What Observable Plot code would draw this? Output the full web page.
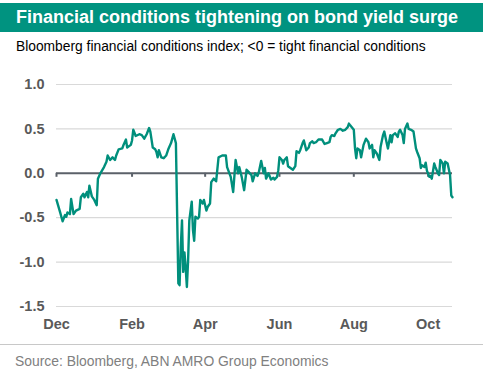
<!DOCTYPE html>
<html>
<head>
<meta charset="utf-8">
<script src="https://cdn.jsdelivr.net/npm/d3@7"></script>
<script src="https://cdn.jsdelivr.net/npm/@observablehq/plot@0.6"></script>
<style>
  html, body { margin: 0; padding: 0; background: #fff; }
  body { width: 490px; height: 377px; position: relative; overflow: hidden; font-family: "Liberation Sans", Arial, sans-serif; }
  #titlebar { position: absolute; left: 0; top: 3px; width: 483px; height: 29px; background: #009380; }
  #title { position: absolute; left: 16px; top: 5px; color: #fff; font-weight: bold; font-size: 18px; line-height: 18px; white-space: nowrap; }
  #subtitle { position: absolute; left: 16px; top: 39px; color: #000; font-size: 13.8px; line-height: 16px; white-space: nowrap; }
  #chart { position: absolute; left: 0; top: 58px; }
  #sep { position: absolute; left: 0; top: 344px; width: 483px; height: 1px; background: #c8c8c8; }
  #source { position: absolute; left: 15px; top: 353px; color: #808080; font-size: 13.9px; line-height: 16px; white-space: nowrap; }
</style>
</head>
<body>
<div id="titlebar"><div id="title">Financial conditions tightening on bond yield surge</div></div>
<div id="subtitle">Bloomberg financial conditions index; &lt;0 = tight financial conditions</div>
<div id="chart"></div>
<div id="sep"></div>
<div id="source">Source: Bloomberg, ABN AMRO Group Economics</div>
<script>
const dates = [
"2019-12-01","2019-12-04","2019-12-06","2019-12-08","2019-12-09","2019-12-10","2019-12-12","2019-12-13","2019-12-15","2019-12-17",
"2019-12-20","2019-12-21","2019-12-23","2019-12-24","2019-12-26","2019-12-27","2019-12-28","2019-12-30","2020-01-01","2020-01-03",
"2020-01-04","2020-01-06","2020-01-09","2020-01-11","2020-01-12","2020-01-14","2020-01-16","2020-01-18","2020-01-19","2020-01-21",
"2020-01-24","2020-01-25","2020-01-27","2020-01-28","2020-01-31","2020-02-01","2020-02-02","2020-02-04","2020-02-07","2020-02-09",
"2020-02-11","2020-02-13","2020-02-15","2020-02-16","2020-02-18","2020-02-20","2020-02-21","2020-02-22","2020-02-23","2020-02-25",
"2020-02-27","2020-02-29","2020-03-02","2020-03-04","2020-03-06","2020-03-08","2020-03-10","2020-03-11","2020-03-12","2020-03-13",
"2020-03-14","2020-03-15","2020-03-16","2020-03-17","2020-03-18","2020-03-19","2020-03-21","2020-03-22","2020-03-23","2020-03-24",
"2020-03-26","2020-03-27","2020-03-28","2020-03-30","2020-03-31","2020-04-02","2020-04-03","2020-04-05","2020-04-06","2020-04-08",
"2020-04-10","2020-04-12","2020-04-15","2020-04-18","2020-04-19","2020-04-22","2020-04-24","2020-04-26","2020-04-28","2020-04-29",
"2020-05-01","2020-05-03","2020-05-05","2020-05-07","2020-05-09","2020-05-10","2020-05-12","2020-05-14","2020-05-15","2020-05-17",
"2020-05-19","2020-05-20","2020-05-21","2020-05-23","2020-05-25","2020-05-27","2020-05-28","2020-05-30","2020-05-31","2020-06-01",
"2020-06-03","2020-06-04","2020-06-05","2020-06-07","2020-06-08","2020-06-10","2020-06-12","2020-06-14","2020-06-15","2020-06-17",
"2020-06-18","2020-06-20","2020-06-21","2020-06-23","2020-06-25","2020-06-26","2020-06-28","2020-06-29","2020-07-01","2020-07-03",
"2020-07-06","2020-07-08","2020-07-10","2020-07-12","2020-07-13","2020-07-14","2020-07-16","2020-07-17","2020-07-19","2020-07-21",
"2020-07-23","2020-07-25","2020-07-27","2020-07-28","2020-07-29","2020-08-01","2020-08-02","2020-08-03","2020-08-04","2020-08-06",
"2020-08-07","2020-08-09","2020-08-11","2020-08-13","2020-08-14","2020-08-16","2020-08-17","2020-08-18","2020-08-20","2020-08-22",
"2020-08-23","2020-08-25","2020-08-26","2020-08-28","2020-08-29","2020-08-31","2020-09-01","2020-09-02","2020-09-04","2020-09-06",
"2020-09-07","2020-09-08","2020-09-10","2020-09-11","2020-09-12","2020-09-14","2020-09-15","2020-09-17","2020-09-19","2020-09-21",
"2020-09-22","2020-09-24","2020-09-25","2020-09-26","2020-09-28","2020-09-29","2020-09-30","2020-10-02","2020-10-03","2020-10-04",
"2020-10-06","2020-10-07","2020-10-09","2020-10-10","2020-10-11","2020-10-13","2020-10-14","2020-10-15","2020-10-17","2020-10-19",
"2020-10-20","2020-10-21"
];
const values = [
-0.30,-0.44,-0.54,-0.47,-0.49,-0.44,-0.46,-0.29,-0.46,-0.42,
-0.40,-0.27,-0.23,-0.27,-0.21,-0.27,-0.14,-0.26,-0.30,-0.36,
-0.06,0.00,0.07,0.13,0.20,0.15,0.18,0.15,0.20,0.27,
0.28,0.32,0.38,0.29,0.32,0.37,0.49,0.42,0.44,0.43,
0.39,0.44,0.51,0.47,0.29,0.27,0.24,0.18,0.26,0.18,
0.17,0.20,0.28,0.34,0.44,0.34,-1.24,-1.26,-0.83,-0.53,
-1.11,-0.89,-1.06,-1.28,-0.98,-0.53,-0.32,-0.64,-0.76,-0.49,
-0.51,-0.49,-0.30,-0.34,-0.30,-0.42,-0.38,-0.34,-0.10,-0.06,
-0.09,0.18,0.20,0.20,0.07,-0.04,-0.21,0.15,0.00,0.07,
-0.04,-0.19,0.04,0.01,-0.02,-0.09,0.00,-0.03,0.01,0.14,
0.00,0.06,-0.06,0.00,-0.07,-0.05,-0.07,-0.04,0.03,0.18,
0.15,0.11,0.15,0.18,0.08,0.06,0.04,0.08,0.25,0.23,
0.26,0.34,0.37,0.26,0.29,0.34,0.36,0.34,0.35,0.38,
0.38,0.33,0.34,0.35,0.41,0.43,0.42,0.45,0.49,0.50,
0.48,0.49,0.52,0.56,0.54,0.49,0.28,0.17,0.28,0.26,
0.18,0.32,0.39,0.35,0.28,0.32,0.18,0.26,0.22,0.15,
0.30,0.43,0.47,0.34,0.28,0.43,0.35,0.43,0.45,0.41,
0.47,0.49,0.43,0.34,0.50,0.56,0.50,0.49,0.47,0.28,
0.24,0.17,0.06,0.09,0.07,0.12,0.03,-0.04,-0.03,-0.06,
0.11,0.07,0.00,-0.02,0.15,0.11,0.00,0.13,0.11,-0.02,
-0.25,-0.27
];
const xDomain = ["2019-12-01", "2020-10-21"];
const tickDates = ["2019-12-01","2020-02-01","2020-04-01","2020-06-01","2020-08-01","2020-10-01"];
const tickLabels = ["Dec","Feb","Apr","Jun","Aug","Oct"];
const yTicks = [1.0, 0.5, 0.0, -0.5, -1.0, -1.5];
const yGrid = [1.0, 0.5, -0.5, -1.0, -1.5];

const data = dates.map((d, i) => ({date: new Date(d), value: values[i]}));
const ticks = tickDates.map(d => new Date(d));
const labelFor = d => tickLabels[ticks.findIndex(t => +t === +d)];

const axisColor = "#5b6169";
const labelColor = "#595959";

const chart = Plot.plot({
  width: 490,
  height: 278,
  marginTop: 26,
  marginBottom: 30,
  marginLeft: 56,
  marginRight: 38,
  x: {type: "utc", domain: xDomain.map(d => new Date(d)), label: null},
  y: {domain: [-1.5, 1.0], label: null},
  style: {fontFamily: "'Liberation Sans', Arial, sans-serif", fontSize: "14.5px", background: "white", overflow: "visible"},
  marks: [
    Plot.gridY(yGrid, {stroke: "#d9d9d9", strokeOpacity: 1, strokeWidth: 1.2}),
    Plot.axisY(yTicks, {tickSize: 0, tickPadding: 12, tickFormat: d => d.toFixed(1), fill: labelColor, fontWeight: "bold", fontSize: 14.5, label: null}),
    Plot.axisX(ticks, {tickSize: 0, tickPadding: 12, tickFormat: labelFor, fill: labelColor, fontWeight: "bold", fontSize: 14.5, label: null}),
    Plot.ruleY([0], {stroke: axisColor, strokeWidth: 2}),
    Plot.ruleX(ticks, {x: d => d, y1: 0, y2: -0.045, stroke: axisColor, strokeWidth: 2}),
    Plot.line(data, {x: "date", y: "value", stroke: "#008f7c", strokeWidth: 2.4})
  ]
});
document.getElementById("chart").appendChild(chart);
</script>
</body>
</html>
